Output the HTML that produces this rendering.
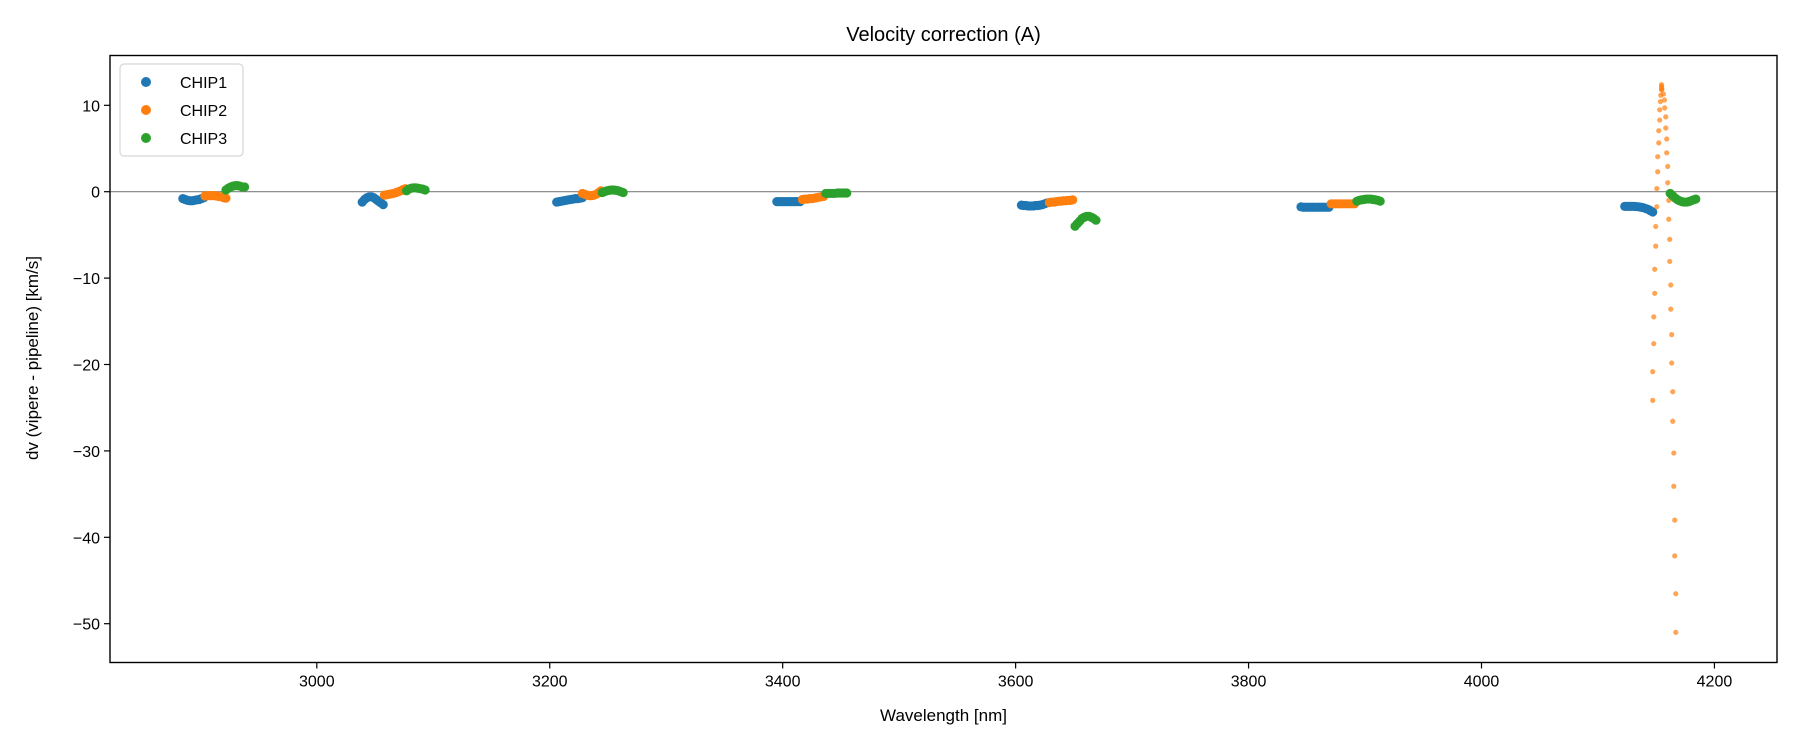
<!DOCTYPE html>
<html><head><meta charset="utf-8">
<style>
html,body{margin:0;padding:0;background:#fff;}
svg{display:block;font-family:"Liberation Sans","DejaVu Sans",sans-serif;}
</style></head>
<body>
<svg id="chart" width="1800" height="750" viewBox="0 0 1800 750" xmlns="http://www.w3.org/2000/svg">
<rect width="1800" height="750" fill="#fff"/>
<text x="943.5" y="41" font-size="20" text-anchor="middle" fill="#000">Velocity correction (A)</text>
<text x="943.5" y="721" font-size="17" text-anchor="middle" fill="#000">Wavelength [nm]</text>
<text transform="translate(38,358) rotate(-90)" font-size="17" text-anchor="middle" fill="#000">dv (vipere - pipeline) [km/s]</text>
<g id="plot"></g>
<rect x="110" y="55.5" width="1667" height="607" fill="none" stroke="#000" stroke-width="1.4"/>
<g>
<rect x="120" y="64" width="123" height="92" rx="4" fill="#fff" fill-opacity="0.8" stroke="#d6d6d6" stroke-width="1.2"/>
<g><circle cx="146" cy="82" r="5" fill="#1f77b4"/><text x="180" y="88" font-size="16">CHIP1</text></g>
<g><circle cx="146" cy="110" r="5" fill="#ff7f0e"/><text x="180" y="116" font-size="16">CHIP2</text></g>
<g><circle cx="146" cy="138" r="5" fill="#2ca02c"/><text x="180" y="144" font-size="16">CHIP3</text></g>
</g>
</svg>
<script>
const xTicks=[3000,3200,3400,3600,3800,4000,4200];
const yTicks=[10,0,-10,-20,-30,-40,-50];
const chip1W=[2885,2887,2889,2891,2893,2895,2897,2899,2901,2903,
 3039,3041,3043,3045,3047,3049,3051,3053,3055,3057,
 3206,3208,3210,3212,3214,3216,3218,3220,3222,3224,3226,3228,
 3395,3397,3399,3401,3403,3405,3407,3409,3411,3413,3415,
 3605,3607,3609,3611,3613,3615,3617,3619,3621,3623,3625,3627,
 3845,3847,3849,3851,3853,3855,3857,3859,3861,3863,3865,3867,3869,
 4123,4125,4127,4129,4131,4133,4135,4137,4139,4141,4143,4145,4147];
const chip1V=[-0.8,-0.9,-1.0,-1.05,-1.05,-1.0,-0.95,-0.9,-0.8,-0.7,
 -1.2,-0.9,-0.7,-0.6,-0.6,-0.7,-0.9,-1.1,-1.3,-1.5,
 -1.2,-1.15,-1.1,-1.05,-1.0,-0.95,-0.9,-0.85,-0.8,-0.8,-0.75,-0.7,
 -1.15,-1.15,-1.15,-1.15,-1.15,-1.15,-1.15,-1.15,-1.15,-1.15,-1.15,
 -1.55,-1.6,-1.6,-1.65,-1.65,-1.65,-1.6,-1.6,-1.55,-1.5,-1.4,-1.3,
 -1.75,-1.8,-1.8,-1.8,-1.8,-1.8,-1.8,-1.8,-1.8,-1.8,-1.8,-1.8,-1.8,
 -1.7,-1.7,-1.7,-1.7,-1.7,-1.72,-1.75,-1.8,-1.85,-1.95,-2.05,-2.2,-2.35];
const chip2W=[2904,2906,2908,2910,2912,2914,2916,2918,2920,2922,
 3058,3060,3062,3064,3066,3068,3070,3072,3074,3076,
 3228,3230,3232,3234,3236,3238,3240,3242,3244,
 3417,3419,3421,3423,3425,3427,3429,3431,3433,3435,
 3629,3631,3633,3635,3637,3639,3641,3643,3645,3647,3649,
 3871,3873,3875,3877,3879,3881,3883,3885,3887,3889,3891];
const chip2V=[-0.5,-0.45,-0.45,-0.45,-0.45,-0.5,-0.55,-0.6,-0.7,-0.75,
 -0.4,-0.35,-0.3,-0.25,-0.2,-0.1,0,0.1,0.25,0.35,
 -0.2,-0.3,-0.4,-0.45,-0.45,-0.4,-0.3,-0.1,0.1,
 -0.9,-0.85,-0.85,-0.8,-0.8,-0.75,-0.7,-0.65,-0.6,-0.55,
 -1.25,-1.2,-1.2,-1.15,-1.1,-1.1,-1.05,-1.05,-1.0,-1.0,-0.95,
 -1.4,-1.4,-1.4,-1.4,-1.4,-1.4,-1.4,-1.4,-1.4,-1.4,-1.4];
const chip2SpikeW=[4154.6,4154.6,4154.7,4154.8,4154.5,4153.9,4153.6,4153.0,4153.0,4152.2,4152.2,4151.3,4151.3,4150.5,4150.5,4149.6,4149.6,4148.7,4148.7,4147.9,4147.9,4147.0,4147.0,
 4156.2,4157.1,4157.3,4158.2,4158.2,4159.0,4159.0,4159.9,4159.9,4160.8,4160.8,4161.6,4161.6,4162.5,4162.5,4163.3,4163.3,4164.2,4164.2,4165.1,4165.1,4165.9,4165.9,4166.8,4166.8];
const chip2SpikeV=[12.4,12.2,12.0,11.8,11.84,11.16,10.43,9.48,8.29,7.06,5.65,4.05,2.31,0.36,-1.74,-4.02,-6.30,-8.98,-11.76,-14.49,-17.59,-20.83,-24.15,
 11.30,10.61,9.70,8.66,7.37,6.10,4.50,2.92,1.04,-1.01,-3.19,-5.52,-8.07,-10.80,-13.59,-16.54,-19.83,-23.15,-26.57,-30.25,-34.09,-38.01,-42.15,-46.53,-51.0];
const chip3W=[2922,2924,2926,2928,2930,2932,2934,2936,2938,
 3077,3079,3081,3083,3085,3087,3089,3091,3093,
 3245,3247,3249,3251,3253,3255,3257,3259,3261,3263,
 3437,3439,3441,3443,3445,3447,3449,3451,3453,3455,
 3651,3653,3655,3657,3659,3661,3663,3665,3667,3669,
 3893,3895,3897,3899,3901,3903,3905,3907,3909,3911,3913,
 4162,4164,4166,4168,4170,4172,4174,4176,4178,4180,4182,4184];
const chip3V=[0.2,0.4,0.55,0.65,0.7,0.7,0.65,0.55,0.55,
 0.1,0.3,0.4,0.45,0.45,0.4,0.35,0.3,0.2,
 -0.1,0.0,0.1,0.15,0.2,0.2,0.15,0.1,0,-0.1,
 -0.2,-0.2,-0.2,-0.2,-0.2,-0.15,-0.15,-0.15,-0.15,-0.15,
 -4.0,-3.7,-3.4,-3.1,-2.95,-2.85,-2.85,-2.95,-3.1,-3.3,
 -1.1,-1.0,-0.95,-0.9,-0.85,-0.85,-0.85,-0.9,-0.95,-1.0,-1.1,
 -0.2,-0.45,-0.7,-0.9,-1.05,-1.15,-1.2,-1.2,-1.15,-1.05,-0.95,-0.85];

const NS='http://www.w3.org/2000/svg';
const X0=110,X1=1777,Y0=55.5,Y1=662.5;
function xs(w){return 316.8+(w-3000)*1.1647;}
function ys(v){return 191.7-v*8.64;}
const plot=document.getElementById('plot');
function mk(tag,attrs){const e=document.createElementNS(NS,tag);for(const k in attrs)e.setAttribute(k,attrs[k]);return e;}

const zl=mk('line',{x1:X0,x2:X1,y1:ys(0),y2:ys(0),stroke:'#808080','stroke-width':1.2});


plot.appendChild(zl);

xTicks.forEach(t=>{
  const g=mk('g',{});
  
  
  g.appendChild(mk('line',{x1:xs(t),x2:xs(t),y1:Y1,y2:Y1+6,stroke:'#000','stroke-width':1.2}));
  const tx=mk('text',{x:xs(t),y:Y1+24,'font-size':16,'text-anchor':'middle'});
  tx.textContent=t;g.appendChild(tx);plot.appendChild(g);
});
yTicks.forEach(t=>{
  const g=mk('g',{});
  
  
  g.appendChild(mk('line',{x1:X0-6,x2:X0,y1:ys(t),y2:ys(t),stroke:'#000','stroke-width':1.2}));
  const tx=mk('text',{x:X0-10,y:ys(t)+6,'font-size':16,'text-anchor':'end'});
  tx.textContent=t===0?'0':(t<0?'\u2212'+(-t):t);g.appendChild(tx);plot.appendChild(g);
});

function series(W,V,color,r,op,name){
  const g=mk('g',{fill:color,'fill-opacity':op});
  
  
  const n=Math.min(W.length,V.length);
  for(let i=0;i<n;i++){
    const c=mk('circle',{cx:xs(W[i]),cy:ys(V[i]),r:r});
    
    
    g.appendChild(c);
  }
  plot.appendChild(g);
}
series(chip1W,chip1V,'#1f77b4',4.6,1,'chip1-series');
series(chip2W,chip2V,'#ff7f0e',4.6,1,'chip2-series');
series(chip2SpikeW,chip2SpikeV,'#ff7f0e',2.6,0.7,'chip2-spike-series');
series(chip3W,chip3V,'#2ca02c',4.6,1,'chip3-series');
</script>
</body></html>
